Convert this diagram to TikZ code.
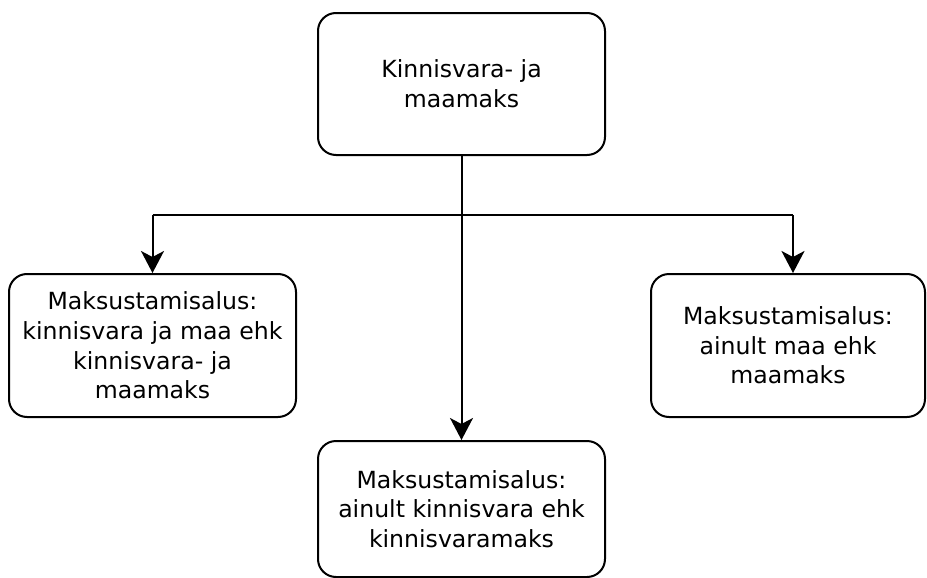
\documentclass[tikz,border=0pt]{standalone}
\usepackage{fontspec}
\setmainfont{DejaVu Sans}
\usepackage{tikz}
\usetikzlibrary{arrows}
\usetikzlibrary{arrows.meta}
\usepackage{xcolor}
\newcommand{\boxfont}{\fontsize{11.8}{14.8}\selectfont}

\begin{document}
\begin{tikzpicture}[x=0.5pt,y=-0.5pt]
\tikzstyle{taxbox}=[draw,line width=1pt,rounded corners=9pt,align=center,inner sep=2pt,font=\boxfont]
\tikzstyle{taxarrow}=[line width=1pt,arrows={-Stealth[length=11pt,width=11.5pt,inset=3pt]}]
\useasboundingbox (0,0) rectangle (927,578);
\node[taxbox,minimum width=143.5pt,minimum height=71pt] (tax) at (461.5,84) {Kinnisvara- ja\\maamaks};
\node[taxbox,minimum width=143.5pt,minimum height=71.5pt] (both) at (152.5,345.5) {Maksustamisalus:\\kinnisvara ja maa ehk\\kinnisvara- ja\\maamaks};
\node[taxbox,minimum width=137pt,minimum height=71.5pt] (land) at (788,345.5) {Maksustamisalus:\\ainult maa ehk\\maamaks};
\node[taxbox,minimum width=143.5pt,minimum height=68pt] (prop) at (461.5,509) {Maksustamisalus:\\ainult kinnisvara ehk\\kinnisvaramaks};
\coordinate (jl) at (152.5,215);
\coordinate (jr) at (793,215);
\draw[taxarrow] (tax) -- (prop);
\draw[line width=1pt] (jl) -- (jr);
\draw[taxarrow] (jl) -- (both);
\draw[taxarrow] (jr) -- (jr |- land.north);
\end{tikzpicture}
\end{document}
